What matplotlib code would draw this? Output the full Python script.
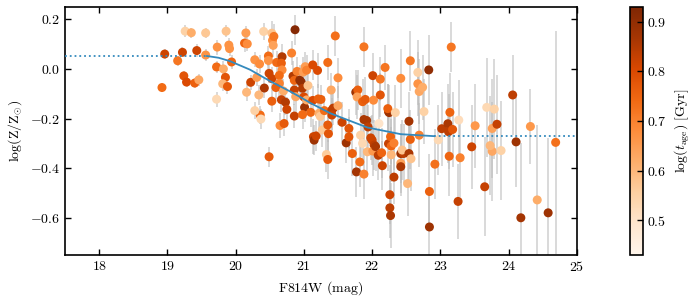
import matplotlib
matplotlib.use('Agg')
import matplotlib.pyplot as plt

plt.rcParams['font.family'] = 'serif'
plt.rcParams['font.serif'] = ['cmr10', 'DejaVu Serif']
plt.rcParams['mathtext.fontset'] = 'cm'
plt.rcParams['axes.formatter.use_mathtext'] = True
plt.rcParams['font.size'] = 10

# F814W magnitude, log(Z/Zsun), its error, log(t_age)
mag = [18.92, 18.96, 19.15, 19.22, 19.24, 19.28, 19.26, 19.35, 19.43, 19.40,
       19.46, 19.56, 19.56, 19.73, 19.72, 19.72, 19.82, 19.86, 19.85, 19.81,
       19.88, 19.90, 19.91, 19.94, 20.13, 20.15, 20.17, 20.22, 20.16, 20.28,
       20.31, 20.35, 20.34, 20.36, 20.28, 20.37, 20.41, 20.42, 20.48, 20.53,
       20.54, 20.56, 20.55, 20.48, 20.49, 20.53, 20.53, 20.49, 20.60, 20.68,
       20.67, 20.68, 20.64, 20.64, 20.59, 20.70, 20.67, 20.73, 20.65, 20.71,
       20.75, 20.82, 20.87, 20.84, 20.86, 20.86, 20.88, 20.86, 20.90, 20.94,
       20.96, 20.98, 20.99, 21.01, 20.98, 21.00, 21.02, 21.04, 21.06, 21.04,
       21.10, 21.13, 21.13, 21.14, 21.15, 21.18, 21.20, 21.21, 21.22, 21.24,
       21.25, 21.27, 21.30, 21.33, 21.35, 21.35, 21.35, 21.36, 21.40, 21.41,
       21.43, 21.41, 21.46, 21.50, 21.50, 21.56, 21.62, 21.66, 21.66, 21.71,
       21.88, 22.01, 22.12, 22.19, 21.76, 21.79, 21.78, 21.86, 21.90, 22.02,
       21.88, 21.92, 21.94, 21.83, 21.86, 21.98, 22.00, 22.03, 21.93, 22.01,
       22.09, 22.05, 22.14, 21.77, 21.82, 21.88, 22.10, 22.15, 22.24, 22.25,
       22.23, 22.24, 22.27, 22.28, 22.28, 22.32, 22.34, 22.32, 22.26, 22.26,
       22.27, 22.42, 22.42, 22.42, 22.42, 22.46, 22.44, 22.54, 22.52, 22.54,
       22.56, 22.56, 22.57, 22.67, 22.67, 22.69, 22.74, 22.76, 22.69, 22.83,
       22.84, 22.84, 22.92, 22.97, 23.02, 23.11, 23.12, 23.14, 23.18, 23.13,
       23.16, 23.27, 23.29, 23.26, 23.46, 23.51, 23.65, 23.68, 23.76, 23.79,
       23.76, 23.73, 23.83, 23.89, 24.06, 24.11, 24.32, 24.18, 24.42, 24.58,
       24.69, 22.12]

logz = [-0.075, 0.060, 0.033, 0.067, -0.028, -0.053, 0.152, 0.146, 0.074, -0.057,
        -0.044, 0.145, 0.056, 0.088, 0.008, -0.122, 0.000, 0.152, -0.034, -0.060,
        -0.071, 0.096, 0.082, 0.028, 0.104, 0.145, 0.101, -0.054, -0.094, 0.037,
        -0.034, 0.020, -0.105, -0.186, -0.168, -0.202, 0.151, -0.077, 0.052, 0.144,
        0.115, 0.131, 0.095, 0.034, -0.018, -0.039, -0.130, -0.354, 0.026, 0.049,
        0.023, -0.004, -0.026, -0.058, -0.075, -0.089, -0.124, -0.134, -0.228, -0.220,
        -0.163, 0.064, 0.158, -0.029, -0.046, -0.085, -0.112, -0.190, -0.010, -0.045,
        -0.053, -0.078, -0.013, -0.155, -0.184, -0.113, 0.009, -0.005, -0.067, -0.125,
        -0.175, 0.016, -0.127, -0.273, -0.287, -0.270, -0.006, -0.121, -0.179, -0.191,
        -0.123, -0.246, -0.168, -0.345, 0.026, -0.226, -0.365, -0.261, -0.085, -0.166,
        -0.158, -0.186, 0.133, -0.036, -0.148, -0.215, -0.298, -0.240, -0.274, -0.341,
        0.089, -0.027, -0.041, 0.006, -0.094, -0.085, -0.113, -0.132, -0.123, -0.126,
        -0.204, -0.208, -0.234, -0.267, -0.300, -0.278, -0.287, -0.307, -0.334, -0.331,
        -0.348, -0.313, -0.338, -0.415, -0.375, -0.424, -0.220, -0.390, -0.172, -0.176,
        -0.160, -0.301, -0.273, -0.311, -0.346, -0.299, -0.176, -0.436, -0.507, -0.560,
        -0.591, -0.038, -0.341, -0.380, -0.394, -0.341, -0.327, -0.341, -0.462, -0.211,
        0.033, -0.284, -0.362, -0.014, -0.060, -0.091, -0.074, -0.172, -0.267, -0.004,
        -0.494, -0.637, -0.384, -0.286, -0.241, -0.221, -0.253, -0.175, -0.244, -0.352,
        0.088, -0.206, -0.358, -0.534, -0.314, -0.229, -0.475, -0.155, -0.240, -0.162,
        -0.332, -0.309, -0.223, -0.329, -0.105, -0.294, -0.232, -0.600, -0.528, -0.580,
        -0.296, -0.105]

logz_err = [0.02, 0.02, 0.02, 0.02, 0.02, 0.02, 0.025, 0.02, 0.025, 0.02,
            0.025, 0.02, 0.025, 0.03, 0.025, 0.03, 0.03, 0.025, 0.03, 0.03,
            0.03, 0.03, 0.03, 0.03, 0.035, 0.03, 0.03, 0.03, 0.035, 0.03,
            0.035, 0.035, 0.04, 0.035, 0.035, 0.04, 0.035, 0.04, 0.04, 0.05,
            0.04, 0.05, 0.045, 0.04, 0.04, 0.045, 0.045, 0.04, 0.045, 0.05,
            0.045, 0.05, 0.05, 0.05, 0.045, 0.05, 0.05, 0.05, 0.05, 0.05,
            0.05, 0.05, 0.06, 0.06, 0.05, 0.06, 0.06, 0.05, 0.06, 0.06,
            0.06, 0.06, 0.06, 0.06, 0.06, 0.06, 0.06, 0.06, 0.07, 0.06,
            0.06, 0.06, 0.06, 0.07, 0.06, 0.06, 0.07, 0.06, 0.07, 0.07,
            0.06, 0.07, 0.06, 0.07, 0.07, 0.07, 0.08, 0.07, 0.07, 0.08,
            0.07, 0.07, 0.08, 0.08, 0.08, 0.08, 0.08, 0.08, 0.08, 0.09,
            0.08, 0.09, 0.09, 0.09, 0.09, 0.08, 0.09, 0.09, 0.09, 0.09,
            0.09, 0.09, 0.09, 0.09, 0.09, 0.09, 0.10, 0.10, 0.10, 0.10,
            0.10, 0.10, 0.10, 0.10, 0.10, 0.10, 0.10, 0.10, 0.11, 0.11,
            0.10, 0.11, 0.11, 0.11, 0.11, 0.11, 0.11, 0.11, 0.12, 0.12,
            0.13, 0.12, 0.12, 0.12, 0.12, 0.12, 0.12, 0.12, 0.13, 0.12,
            0.12, 0.12, 0.13, 0.13, 0.13, 0.13, 0.13, 0.13, 0.13, 0.14,
            0.15, 0.16, 0.14, 0.14, 0.15, 0.16, 0.15, 0.16, 0.15, 0.16,
            0.10, 0.16, 0.16, 0.15, 0.17, 0.17, 0.20, 0.20, 0.20, 0.20,
            0.20, 0.20, 0.20, 0.20, 0.16, 0.18, 0.15, 0.30, 0.30, 0.30,
            0.45, 0.09]

logage = [0.74, 0.82, 0.72, 0.82, 0.78, 0.80, 0.55, 0.62, 0.82, 0.76,
          0.63, 0.57, 0.67, 0.67, 0.74, 0.53, 0.62, 0.58, 0.78, 0.60,
          0.77, 0.67, 0.67, 0.75, 0.75, 0.65, 0.68, 0.82, 0.60, 0.67,
          0.65, 0.68, 0.60, 0.74, 0.55, 0.53, 0.55, 0.86, 0.74, 0.58,
          0.68, 0.72, 0.64, 0.67, 0.82, 0.82, 0.76, 0.77, 0.74, 0.85,
          0.76, 0.68, 0.74, 0.70, 0.76, 0.62, 0.83, 0.85, 0.68, 0.77,
          0.82, 0.70, 0.92, 0.85, 0.75, 0.83, 0.63, 0.83, 0.70, 0.90,
          0.90, 0.85, 0.65, 0.88, 0.74, 0.80, 0.65, 0.70, 0.58, 0.62,
          0.75, 0.80, 0.80, 0.82, 0.88, 0.82, 0.80, 0.76, 0.62, 0.57,
          0.76, 0.57, 0.74, 0.56, 0.74, 0.77, 0.77, 0.78, 0.63, 0.84,
          0.84, 0.82, 0.73, 0.68, 0.63, 0.82, 0.88, 0.78, 0.78, 0.76,
          0.72, 0.82, 0.72, 0.72, 0.88, 0.76, 0.64, 0.76, 0.77, 0.68,
          0.86, 0.86, 0.84, 0.55, 0.53, 0.82, 0.82, 0.84, 0.60, 0.66,
          0.84, 0.86, 0.75, 0.87, 0.74, 0.70, 0.50, 0.82, 0.84, 0.88,
          0.76, 0.83, 0.75, 0.75, 0.60, 0.70, 0.55, 0.84, 0.82, 0.84,
          0.86, 0.68, 0.88, 0.64, 0.86, 0.84, 0.58, 0.86, 0.60, 0.87,
          0.72, 0.76, 0.58, 0.55, 0.67, 0.63, 0.62, 0.55, 0.70, 0.90,
          0.76, 0.88, 0.73, 0.53, 0.84, 0.86, 0.84, 0.75, 0.78, 0.75,
          0.72, 0.52, 0.70, 0.83, 0.82, 0.66, 0.83, 0.53, 0.64, 0.55,
          0.63, 0.60, 0.83, 0.55, 0.84, 0.88, 0.66, 0.87, 0.62, 0.88,
          0.73, 0.78]

# fitted relation
fit_mag = [19.58, 19.75, 19.92, 20.21, 20.51, 20.80, 20.95, 21.10, 21.39,
           21.54, 21.93, 22.42, 22.91]
fit_logz = [0.052, 0.045, 0.031, -0.003, -0.050, -0.091, -0.114, -0.138, -0.179,
            -0.195, -0.236, -0.263, -0.271]
plateau_hi = 0.052
plateau_lo = -0.271

fig = plt.figure(figsize=(7, 3), dpi=100)
ax = fig.add_axes([0.093, 0.15, 0.731, 0.827])
cax = fig.add_axes([0.900, 0.15, 0.018, 0.827])

ax.errorbar(mag, logz, yerr=logz_err, fmt='none', ecolor='#bbbbbb',
            elinewidth=1.3, alpha=0.6, zorder=1)
sc = ax.scatter(mag, logz, c=logage, cmap='Oranges', vmin=0.43, vmax=0.93,
                s=42, edgecolors='none', zorder=2)

blue = '#348ABD'
ax.plot(fit_mag, fit_logz, color=blue, lw=1.3, zorder=3)
ax.plot([17.5, fit_mag[0]], [plateau_hi, plateau_hi], color=blue, lw=1.3,
        ls=':', zorder=3)
ax.plot([fit_mag[-1], 25], [plateau_lo, plateau_lo], color=blue, lw=1.3,
        ls=':', zorder=3)

ax.set_xlim(17.5, 25)
ax.set_ylim(-0.75, 0.25)
ax.set_xticks(range(18, 26))
ax.set_yticks([-0.6, -0.4, -0.2, 0.0, 0.2])
ax.tick_params(direction='in', top=True, right=True, length=4, width=1)
for s in ax.spines.values():
    s.set_linewidth(1.2)
ax.set_xlabel(r'$\mathrm{F814W\ (mag)}$')
ax.set_ylabel(r'$\log(\mathrm{Z}/\mathrm{Z}_{\odot})$')

cb = fig.colorbar(sc, cax=cax)
cb.set_ticks([0.5, 0.6, 0.7, 0.8, 0.9])
cb.ax.tick_params(direction='in', length=4, width=1)
cb.outline.set_linewidth(1.2)
cb.set_label(r'$\log(t_{\rm age})\ [\rm Gyr]$')

fig.savefig('out.png', dpi=100)
